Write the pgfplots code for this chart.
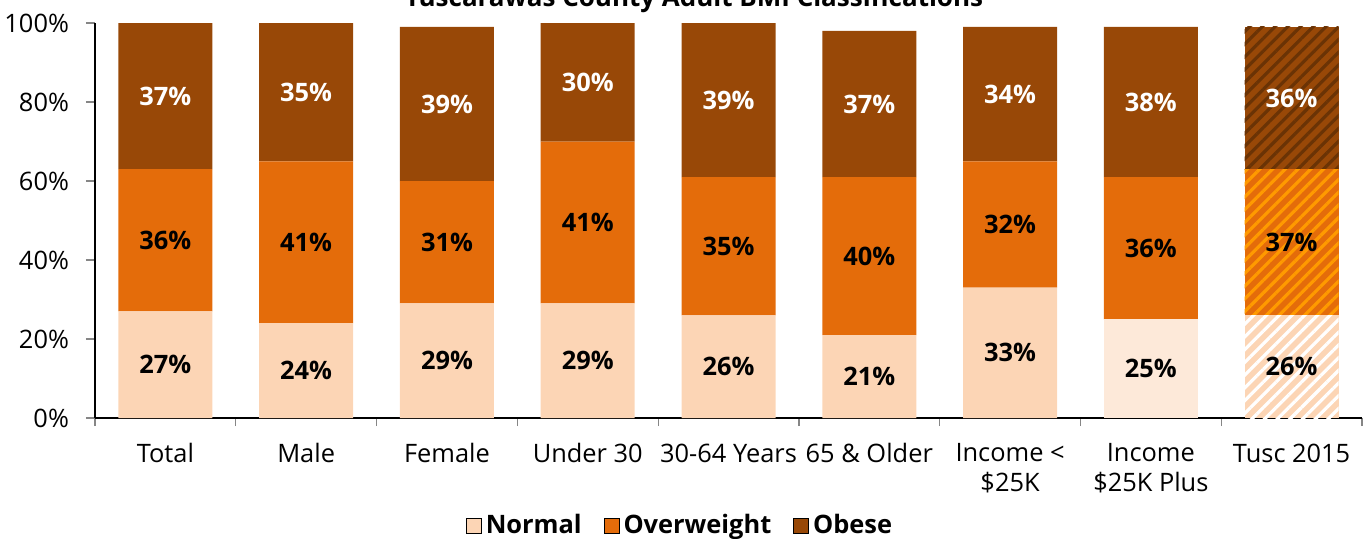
\documentclass[border=0pt]{standalone}
\usepackage{fontspec}
\setmainfont{Open Sans}
\usepackage{pgfplots}
\pgfplotsset{compat=1.18}
\usepackage{pgfplotstable}
\usetikzlibrary{patterns.meta}

\definecolor{cNormal}{HTML}{FCD5B5}
\definecolor{cNormalL}{HTML}{FDE9D9}
\definecolor{cOver}{HTML}{E46C0A}
\definecolor{cOverS}{HTML}{FF9A00}
\definecolor{cObese}{HTML}{984807}
\definecolor{cObeseS}{HTML}{6A3305}
\definecolor{tickgray}{HTML}{868686}

% segment heights (%), one column per series; the last two bars get their own series
\pgfplotstableread{
x normal normalL normalH over overH obese obeseH
0 27 0  0  36 0  37 0
1 24 0  0  41 0  35 0
2 29 0  0  31 0  39 0
3 29 0  0  41 0  30 0
4 26 0  0  35 0  39 0
5 21 0  0  40 0  37 0
6 33 0  0  32 0  34 0
7 0  25 0  36 0  38 0
8 0  0  26 0  37 0  36
}\bmidata

\newcommand{\fs}{\fontsize{12.7}{15}\selectfont}

\begin{document}
\begin{tikzpicture}
\begin{axis}[
    scale only axis, clip=false,
    width=633.5pt, height=197.5pt,
    ybar stacked, bar width=47pt,
    xmin=-0.5, xmax=8.5, ymin=0, ymax=100,
    axis x line*=bottom, axis y line*=left,
    axis line style={black, line width=0.6pt},
    xtick={0,...,8},
    xticklabels={Total, Male, Female, Under 30, 30-64 Years, 65 \& Older,
                 Income <\\\$25K, Income\\\$25K Plus, Tusc 2015},
    minor xtick={-0.5,0.5,...,8.5},
    ytick={0,20,...,100},
    yticklabels={0\%,20\%,40\%,60\%,80\%,100\%},
    tick align=outside,
    major x tick style={draw=none},
    minor x tick style={tickgray, line width=0.6pt},
    y tick style={tickgray, line width=0.6pt},
    major tick length=4.5pt, minor tick length=4pt,
    xticklabel style={font=\fs, align=center, anchor=north, yshift=-4.8pt},
    yticklabel style={font=\fs, xshift=-5pt},
    visualization depends on={rawy \as \rawy},
    nodes near coords={\ifdim\rawy pt>0.5pt\pgfmathprintnumber[fixed,precision=0,assume math mode=true]{\rawy}\%\fi},
    every node near coord/.append style={font=\fs\bfseries},
    legend image code/.code={\fill[#1] (0pt,-3.75pt) rectangle (7.5pt,3.75pt);},
    legend style={draw=none, fill=none, font=\fs\bfseries, legend columns=3,
        at={(0.4625,-0.272)}, anchor=center,
        /tikz/every even column/.append style={column sep=9pt}},
]
    \addlegendimage{fill=cNormal}
    \addlegendimage{fill=cOver}
    \addlegendimage{fill=cObese}
    \legend{Normal, Overweight, Obese}

    \addplot[fill=cNormal, draw=none] table[x=x, y=normal] {\bmidata};
    \addplot[fill=cNormalL, draw=none] table[x=x, y=normalL] {\bmidata};
    \addplot[fill=cNormal, draw=none,
        postaction={pattern={Lines[angle=45, distance=4.5pt, line width=1.6pt]}, pattern color=white}]
        table[x=x, y=normalH] {\bmidata};
    \addplot[fill=cOver, draw=none] table[x=x, y=over] {\bmidata};
    \addplot[fill=cOver, draw=none,
        postaction={pattern={Lines[angle=45, distance=4.5pt, line width=1.6pt]}, pattern color=cOverS}]
        table[x=x, y=overH] {\bmidata};
    \addplot[fill=cObese, draw=none, every node near coord/.append style={text=white}]
        table[x=x, y=obese] {\bmidata};
    \addplot[fill=cObese, draw=none, every node near coord/.append style={text=white},
        postaction={pattern={Lines[angle=45, distance=4.5pt, line width=1.6pt]}, pattern color=cObeseS}]
        table[x=x, y=obeseH] {\bmidata};

    \node[font=\fontsize{13}{15}\selectfont\bfseries, anchor=base]
        at (axis cs:3.755,100) [yshift=8.5pt] {Tuscarawas County Adult BMI Classifications};
\end{axis}
\pgfresetboundingbox
\useasboundingbox (-47.5pt,-60pt) rectangle (636.5pt,209pt);
\end{tikzpicture}
\end{document}
